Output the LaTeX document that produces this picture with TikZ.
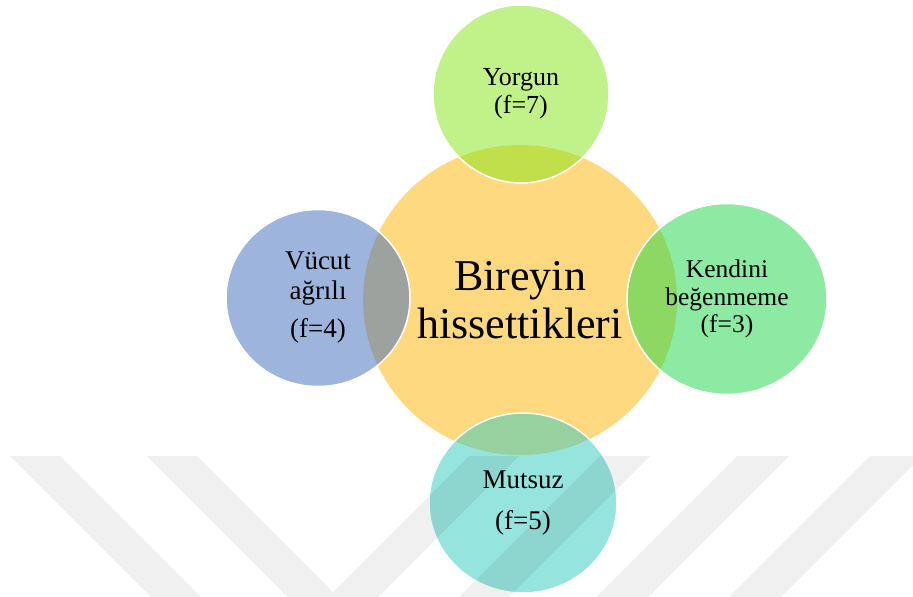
\documentclass[tikz,border=0pt]{standalone}
\usepackage{fontspec}
\setmainfont{Liberation Serif}
\usetikzlibrary{shapes.geometric}
\definecolor{cyellow}{RGB}{255,217,128}
\definecolor{cgreen}{RGB}{133,229,21}
\definecolor{cblue}{RGB}{61,109,189}
\definecolor{cmint}{RGB}{29,215,71}
\definecolor{cteal}{RGB}{47,203,191}
\tikzset{
  hub/.style={ellipse, inner sep=0pt, fill=cyellow, align=center, text=black,
    font=\fontsize{44}{48}\selectfont},
  sat/.style={ellipse, inner sep=0pt, draw=white, line width=1.5pt,
    fill opacity=0.5, draw opacity=1, text opacity=1, align=center, text=black},
  wmark/.style={fill=black, fill opacity=0.058},
}
\begin{document}
\begin{tikzpicture}[x=1pt,y=-1pt]
\useasboundingbox (0,0) rectangle (913,597);
\fill[white] (0,0) rectangle (913,597);
% central circle
\node[hub, minimum width=314pt, minimum height=310pt] (hub) at (520,300) {Bireyin\\hissettikleri};
% satellites
\node[sat, fill=cgreen, minimum width=176pt, minimum height=178pt,
  font=\fontsize{26}{28}\selectfont] (top) at (521,94) {Yorgun\\(f=7)};
\node[sat, fill=cblue, minimum width=184pt, minimum height=177pt,
  font=\fontsize{27}{30}\selectfont] (left) at (318,298) {Vücut\\ağrılı\\[8pt](f=4)};
\node[sat, fill=cmint, minimum width=200pt, minimum height=191pt,
  font=\fontsize{25.5}{27.5}\selectfont] (right) at (727,299) {Kendini\\beğenmeme\\(f=3)};
\node[sat, fill=cteal, minimum width=188pt, minimum height=180pt,
  font=\fontsize{27}{30}\selectfont] (bottom) at (523,503) {Mutsuz\\[11pt](f=5)};
% watermark stripes
\fill[wmark] (10,456) -- (60,456) -- (201,597) -- (151,597) -- cycle;
\fill[wmark] (147,456) -- (197,456) -- (333,592) -- (469,456) -- (519,456)
  -- (378,597) -- (288,597) -- cycle;
\fill[wmark] (600,456) -- (650,456) -- (509,597) -- (459,597) -- cycle;
\fill[wmark] (737,456) -- (789,456) -- (648,597) -- (596,597) -- cycle;
\fill[wmark] (870,456) -- (922,456) -- (781,597) -- (729,597) -- cycle;
\end{tikzpicture}
\end{document}
